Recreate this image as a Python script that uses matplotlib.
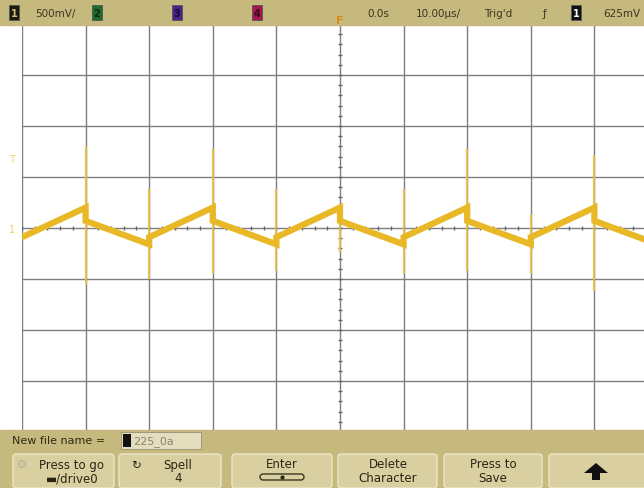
import numpy as np
import matplotlib
matplotlib.use('Agg')
import matplotlib.pyplot as plt
from matplotlib.patches import Rectangle, FancyBboxPatch, Polygon

# trace vertices, time in us and volts in mV (500 mV/div, 10 us/div)
trace_t = [-50, -40, -40, -30, -30, -20, -20, -10, -10, 0, 0, 10, 10, 20, 20, 30, 30, 40, 40, 47.8]
trace_v = [-90, 200, 70, -160, -90, 200, 70, -160, -90, 200, 70, -160, -90, 200, 70, -160, -90, 200, 70, -110]

# switching spikes at each edge
spike_t = [-40, -30, -20, -10, 0, 10, 20, 30, 40]
spike_top = [800, 380, 770, 380, 240, 380, 770, 140, 720]
spike_bot = [-560, -500, -450, -420, -240, -450, -420, -450, -620]

volts_per_div = 500
time_per_div = 10

W, H = 644, 489
fig = plt.figure(figsize=(W / 100, H / 100), dpi=100)
fig.patch.set_facecolor('white')

# screen area: 22..(off right) x 25..433 px
ax = fig.add_axes([22 / W, (H - 433) / H, (W - 22) / W, 408 / H])
ax.set_xlim(-50, 47.8)
ax.set_ylim(-4 * volts_per_div, 4 * volts_per_div)
ax.axis('off')

grid_col = '#7e7e7e'
for t in np.arange(-50, 50, time_per_div):
    ax.axvline(t, color=grid_col, lw=1.0, zorder=1)
for v in np.arange(-4, 5) * volts_per_div:
    ax.axhline(v, color=grid_col, lw=1.0, zorder=1)
# minor ticks along the centre lines
mt = np.arange(-50, 48, 2)
ax.plot(mt, np.zeros_like(mt), ls='none', marker='|', ms=3, color='#666666', zorder=2)
mv = np.arange(-2000, 2001, 100)
ax.plot(np.zeros_like(mv), mv, ls='none', marker='_', ms=3, color='#666666', zorder=2)

trace_col = '#E9B826'
ax.vlines(spike_t, spike_bot, spike_top, color='#E6C24A', lw=1.6, alpha=0.85, zorder=3)
ax.plot(trace_t, trace_v, color=trace_col, lw=4.5, solid_joinstyle='miter', zorder=4)

# overlay in pixel coordinates for the scope chrome
ui = fig.add_axes([0, 0, 1, 1])
ui.set_xlim(0, W)
ui.set_ylim(H, 0)
ui.axis('off')
ui.patch.set_alpha(0)

bar_col = '#C6B97E'
ui.add_patch(Rectangle((0, 0), W, 26, color=bar_col, zorder=1))
ui.add_patch(Rectangle((0, 431), W, 58, color=bar_col, zorder=1))

def chan_box(x, face, label, txt_col):
    ui.add_patch(Rectangle((x - 5, 6), 10, 15, facecolor=face, edgecolor='#555555', lw=0.6, zorder=2))
    ui.text(x, 14, label, ha='center', va='center', fontsize=7, color=txt_col,
            fontweight='bold', zorder=3)

chan_box(14, '#1b1b12', '1', '#d8c070')
chan_box(97, '#1f6b2c', '2', '#0b2a10')
chan_box(177, '#4a2388', '3', '#1a0a38')
chan_box(257, '#a4184e', '4', '#3a0818')
chan_box(576, '#111111', '1', 'white')

top_font = dict(fontsize=7.5, color='#3a3520', va='center')
ui.text(55, 14, '500mV/', ha='center', **top_font)
ui.text(378, 14, '0.0s', ha='center', **top_font)
ui.text(438, 14, '10.00µs/', ha='center', **top_font)
ui.text(498, 14, "Trig'd", ha='center', **top_font)
ui.text(545, 14, 'ƒ', ha='center', **top_font)
ui.text(622, 14, '625mV', ha='center', **top_font)
# trigger position marker
ui.text(340, 21, 'F', ha='center', va='center', fontsize=8, color='#D88A1A', fontweight='bold')

# channel markers on the left
ui.text(12, 160, 'T', ha='center', va='center', fontsize=7, color='#E8CF70')
ui.text(12, 230, '1', ha='center', va='center', fontsize=7, color='#E8CF70')

# file name row
ui.text(12, 441, 'New file name =', ha='left', va='center', fontsize=8, color='#2e2a14')
ui.add_patch(Rectangle((121, 433), 80, 17, facecolor='#E4DDBE', edgecolor='#9a9070', lw=0.6, zorder=2))
ui.add_patch(Rectangle((123, 435), 8, 13, facecolor='#111111', zorder=3))
ui.text(133, 442, '225_0a', ha='left', va='center', fontsize=8, color='#8a8470', zorder=4)

# softkeys
keys = [(12, 115), (118, 222), (231, 333), (337, 438), (443, 543), (548, 650)]
for x0, x1 in keys:
    ui.add_patch(FancyBboxPatch((x0 + 1, 455), x1 - x0 - 2, 34, boxstyle='round,pad=0,rounding_size=3',
                                facecolor='#D9CFA0', edgecolor='#EDE6C8', lw=1.0, zorder=2))
key_font = dict(fontsize=8.5, color='#2a2614', ha='center', va='center', zorder=4)
ui.text(72, 465, 'Press to go', **key_font)
ui.text(72, 479, '▬/drive0', **key_font)
ui.add_patch(plt.Circle((22, 465), 3.5, facecolor='#CFC8A8', edgecolor='#B0A888', lw=0.5, zorder=3))
ui.text(136, 465, '↻', **key_font)
ui.text(178, 465, 'Spell', **key_font)
ui.text(178, 479, '4', **key_font)
ui.text(282, 465, 'Enter', **key_font)
ui.add_patch(FancyBboxPatch((260, 475), 44, 6, boxstyle='round,pad=0,rounding_size=3',
                            facecolor='none', edgecolor='#2a2614', lw=0.9, zorder=4))
ui.plot([282], [478], marker='o', ms=2, color='#2a2614', zorder=5)
ui.text(388, 465, 'Delete', **key_font)
ui.text(388, 479, 'Character', **key_font)
ui.text(493, 465, 'Press to', **key_font)
ui.text(493, 479, 'Save', **key_font)
# up arrow softkey
ui.add_patch(Polygon([(596, 464), (608, 474), (600, 474), (600, 481), (592, 481), (592, 474), (584, 474)],
                     closed=True, facecolor='#111111', edgecolor='none', zorder=4))

fig.savefig('out.png', dpi=100, facecolor='white')
